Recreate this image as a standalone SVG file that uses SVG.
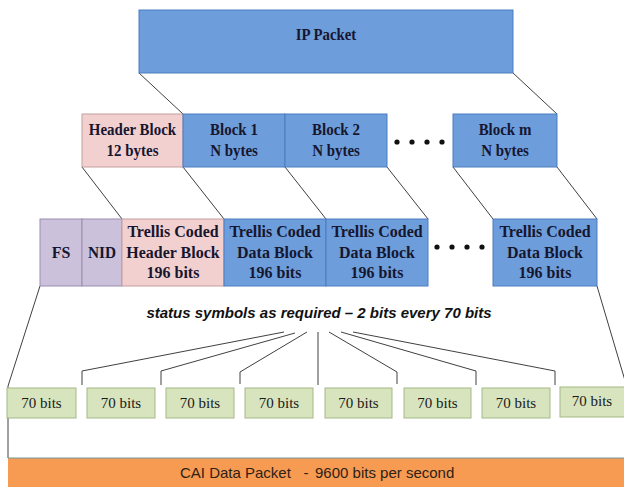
<svg xmlns="http://www.w3.org/2000/svg" width="624" height="487" viewBox="0 0 624 487">
<style>
.blue{fill:#6d9dda;stroke:#4d7dbf;stroke-width:1}
.pink{fill:#f2d0cf;stroke:#c49f9f;stroke-width:1}
.purple{fill:#ccc1db;stroke:#9b8db2;stroke-width:1}
.green{fill:#d7e4bd;stroke:#a3b987;stroke-width:1}
.orange{fill:#f79a52}
.lbl{font-family:"Liberation Serif","Times New Roman",serif;font-weight:bold;font-size:17px;fill:#161630;text-anchor:middle}
.bits{font-family:"Liberation Serif","Times New Roman",serif;font-size:15px;fill:#1a1a1a;text-anchor:middle}
.status{font-family:"Liberation Sans",Arial,sans-serif;font-weight:bold;font-style:italic;font-size:15px;fill:#111;text-anchor:middle}
.cai{font-family:"Liberation Sans",Arial,sans-serif;font-size:15px;fill:#2e2216}
.conn line,.conn polyline{stroke:#404040;stroke-width:1;fill:none}
.dot{fill:#111}
</style>

<g class="conn" id="connectors">
<line x1="139" y1="73" x2="183" y2="114"/>
<line x1="513" y1="73" x2="557" y2="114"/>
<line x1="82" y1="167" x2="122" y2="219"/>
<line x1="183" y1="167" x2="224" y2="219"/>
<line x1="285" y1="167" x2="326" y2="219"/>
<line x1="387" y1="167" x2="428" y2="219"/>
<line x1="453" y1="167" x2="493" y2="219"/>
<line x1="557" y1="167" x2="597" y2="219"/>
<polyline points="40,286 8,386 8,458"/>
<line x1="597" y1="286" x2="626" y2="384"/>
<polyline points="284,332 82,371 82,385"/>
<polyline points="295,333 161,371 161,385"/>
<polyline points="307,332 240,372 240,384"/>
<line x1="318" y1="332" x2="318" y2="385"/>
<polyline points="329,332 397,372 397,384"/>
<polyline points="341,332 476,371 476,385"/>
<polyline points="353,332 555,371 555,385"/>
</g>

<g id="ip-packet">
<rect class="blue" x="139" y="10" width="374" height="63"/>
<text class="lbl" transform="translate(326 40) scale(0.87 1)">IP Packet</text>
</g>

<g id="header-block">
<rect class="pink" x="82" y="114" width="101" height="53"/>
<text class="lbl" transform="translate(132.5 135) scale(0.88 1)">Header Block</text>
<text class="lbl" transform="translate(132.5 156) scale(0.88 1)">12 bytes</text>
</g>
<g id="block-1">
<rect class="blue" x="183" y="114" width="102" height="53"/>
<text class="lbl" transform="translate(234 135) scale(0.88 1)">Block 1</text>
<text class="lbl" transform="translate(234 156) scale(0.88 1)">N bytes</text>
</g>
<g id="block-2">
<rect class="blue" x="285" y="114" width="102" height="53"/>
<text class="lbl" transform="translate(336 135) scale(0.88 1)">Block 2</text>
<text class="lbl" transform="translate(336 156) scale(0.88 1)">N bytes</text>
</g>
<g id="dots-1">
<circle class="dot" cx="397" cy="142" r="2.6"/>
<circle class="dot" cx="412" cy="142" r="2.6"/>
<circle class="dot" cx="427" cy="142" r="2.6"/>
<circle class="dot" cx="442" cy="142" r="2.6"/>
</g>
<g id="block-m">
<rect class="blue" x="453" y="114" width="104" height="53"/>
<text class="lbl" transform="translate(505 135) scale(0.88 1)">Block m</text>
<text class="lbl" transform="translate(505 156) scale(0.88 1)">N bytes</text>
</g>

<g id="fs">
<rect class="purple" x="40" y="219" width="42" height="67"/>
<text class="lbl" transform="translate(61 258) scale(0.94 1)">FS</text>
</g>
<g id="nid">
<rect class="purple" x="82" y="219" width="40" height="67"/>
<text class="lbl" transform="translate(102 258) scale(0.9 1)">NID</text>
</g>
<g id="tc-header">
<rect class="pink" x="122" y="219" width="102" height="67"/>
<text class="lbl" transform="translate(173 237) scale(0.94 1)">Trellis Coded</text>
<text class="lbl" transform="translate(173 258) scale(0.94 1)">Header Block</text>
<text class="lbl" transform="translate(173 278) scale(0.94 1)">196 bits</text>
</g>
<g id="tc-data-1">
<rect class="blue" x="224" y="219" width="102" height="67"/>
<text class="lbl" transform="translate(275 237) scale(0.94 1)">Trellis Coded</text>
<text class="lbl" transform="translate(275 258) scale(0.94 1)">Data Block</text>
<text class="lbl" transform="translate(275 278) scale(0.94 1)">196 bits</text>
</g>
<g id="tc-data-2">
<rect class="blue" x="326" y="219" width="102" height="67"/>
<text class="lbl" transform="translate(377 237) scale(0.94 1)">Trellis Coded</text>
<text class="lbl" transform="translate(377 258) scale(0.94 1)">Data Block</text>
<text class="lbl" transform="translate(377 278) scale(0.94 1)">196 bits</text>
</g>
<g id="dots-2">
<circle class="dot" cx="437" cy="247" r="2.6"/>
<circle class="dot" cx="452" cy="247" r="2.6"/>
<circle class="dot" cx="467" cy="247" r="2.6"/>
<circle class="dot" cx="482" cy="247" r="2.6"/>
</g>
<g id="tc-data-m">
<rect class="blue" x="493" y="219" width="104" height="67"/>
<text class="lbl" transform="translate(545 237) scale(0.94 1)">Trellis Coded</text>
<text class="lbl" transform="translate(545 258) scale(0.94 1)">Data Block</text>
<text class="lbl" transform="translate(545 278) scale(0.94 1)">196 bits</text>
</g>

<g id="status-label">
<text class="status" x="319" y="318">status symbols as required – 2 bits every 70 bits</text>
</g>

<g id="bits-1"><rect class="green" x="7" y="388" width="69" height="30"/><text class="bits" x="41.5" y="408">70 bits</text></g>
<g id="bits-2"><rect class="green" x="87" y="388" width="68" height="30"/><text class="bits" x="121" y="408">70 bits</text></g>
<g id="bits-3"><rect class="green" x="166" y="388" width="68" height="30"/><text class="bits" x="200" y="408">70 bits</text></g>
<g id="bits-4"><rect class="green" x="245" y="388" width="68" height="30"/><text class="bits" x="279" y="408">70 bits</text></g>
<g id="bits-5"><rect class="green" x="325" y="388" width="67" height="30"/><text class="bits" x="358.5" y="408">70 bits</text></g>
<g id="bits-6"><rect class="green" x="404" y="388" width="67" height="30"/><text class="bits" x="437.5" y="408">70 bits</text></g>
<g id="bits-7"><rect class="green" x="482" y="388" width="68" height="30"/><text class="bits" x="516" y="408">70 bits</text></g>
<g id="bits-8"><rect class="green" x="560" y="387" width="68" height="30"/><text class="bits" x="592" y="406">70 bits</text></g>

<g id="cai-packet">
<rect class="orange" x="8" y="458" width="620" height="32"/>
<line x1="8" y1="458" x2="624" y2="458" stroke="#6f9a9a" stroke-width="1"/>
<text class="cai" x="180" y="478">CAI Data Packet</text>
<text class="cai" x="306" y="478" text-anchor="middle">-</text>
<text class="cai" x="315" y="478">9600 bits per second</text>
</g>
</svg>
